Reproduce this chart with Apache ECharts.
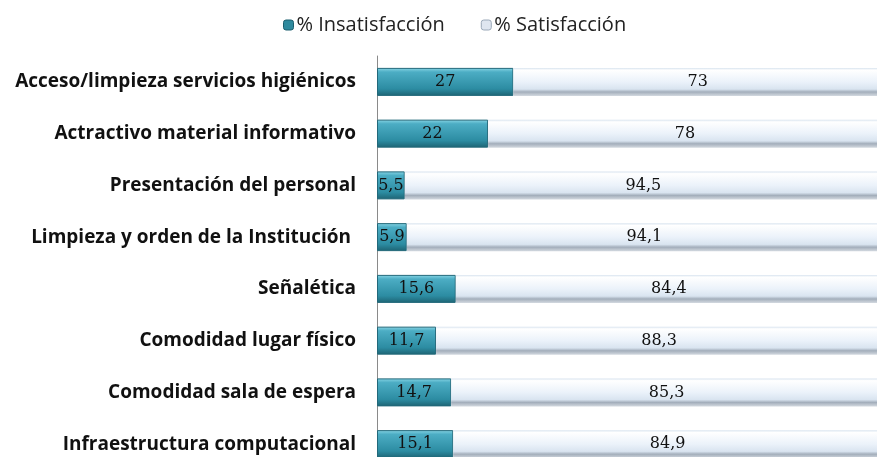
<!DOCTYPE html>
<html>
<head>
<meta charset="utf-8">
<script src="https://cdn.jsdelivr.net/npm/echarts@6/dist/echarts.min.js"></script>
<style>
  html, body { margin: 0; padding: 0; background: #fff; }
  #chart { width: 877px; height: 457px; }
</style>
</head>
<body>
<div id="chart"></div>
<script>
// categories from top to bottom
const categorias = [
  "Acceso/limpieza servicios higiénicos",
  "Actractivo material informativo",
  "Presentación del personal",
  "Limpieza y orden de la Institución ",
  "Señalética",
  "Comodidad lugar físico",
  "Comodidad sala de espera",
  "Infraestructura computacional"
];
const insatisfaccion = [27, 22, 5.5, 5.9, 15.6, 11.7, 14.7, 15.1];
const satisfaccion = [73, 78, 94.5, 94.1, 84.4, 88.3, 85.3, 84.9];

const fmt = (p) => String(p.value).replace(".", ",");

const teal = new echarts.graphic.LinearGradient(0, 0, 0, 1, [
  { offset: 0, color: "#8ad6e6" },
  { offset: 0.15, color: "#4cadc4" },
  { offset: 0.75, color: "#2c8ca2" },
  { offset: 1, color: "#1d6373" }
]);
const claro = new echarts.graphic.LinearGradient(0, 0, 0, 1, [
  { offset: 0, color: "#d6e2ee" },
  { offset: 0.08, color: "#ffffff" },
  { offset: 0.5, color: "#ebf2fa" },
  { offset: 0.76, color: "#d9e4f0" },
  { offset: 0.86, color: "#a3aebb" },
  { offset: 1, color: "#d2d8df" }
]);

let myChart = echarts.init(document.getElementById("chart"));
myChart.setOption({
  animation: false,
  legend: {
    top: 10,
    left: 278,
    itemWidth: 10,
    itemHeight: 10,
    itemGap: 36,
    textStyle: { fontFamily: "Open Sans", fontSize: 20, color: "#222", padding: [0, 0, 0, -2] },
    data: [
      { name: "% Insatisfacción", itemStyle: { color: "#2f8a9e", borderColor: "#1c5f6e", borderWidth: 1 } },
      { name: "% Satisfacción", itemStyle: { color: "#dfe6f0", borderColor: "#9aa8b8", borderWidth: 1 } }
    ]
  },
  grid: { left: 377, top: 56, width: 505, height: 414, containLabel: false, outerBoundsMode: "none" },
  xAxis: { type: "value", min: 0, max: 100, show: false },
  yAxis: {
    type: "category",
    inverse: true,
    data: categorias,
    axisLine: { show: true, lineStyle: { color: "#8a8a8a", width: 1 } },
    axisTick: { show: false },
    axisLabel: {
      margin: 21,
      fontFamily: "Open Sans",
      fontWeight: "bold",
      fontSize: 19,
      color: "#111"
    }
  },
  series: [
    {
      name: "% Insatisfacción",
      type: "bar",
      stack: "total",
      barWidth: 28,
      data: insatisfaccion,
      itemStyle: { color: teal, borderColor: "#22687a", borderWidth: 1 },
      label: {
        show: true,
        position: "inside",
        formatter: fmt,
        fontFamily: "DejaVu Serif",
        fontSize: 16,
        color: "#111"
      }
    },
    {
      name: "% Satisfacción",
      type: "bar",
      stack: "total",
      barWidth: 28,
      data: satisfaccion,
      itemStyle: { color: claro },
      label: {
        show: true,
        position: "inside",
        formatter: fmt,
        fontFamily: "DejaVu Serif",
        fontSize: 16,
        color: "#111"
      }
    }
  ]
});
window.addEventListener("resize", function () {
  myChart.resize();
});
</script>
</body>
</html>
